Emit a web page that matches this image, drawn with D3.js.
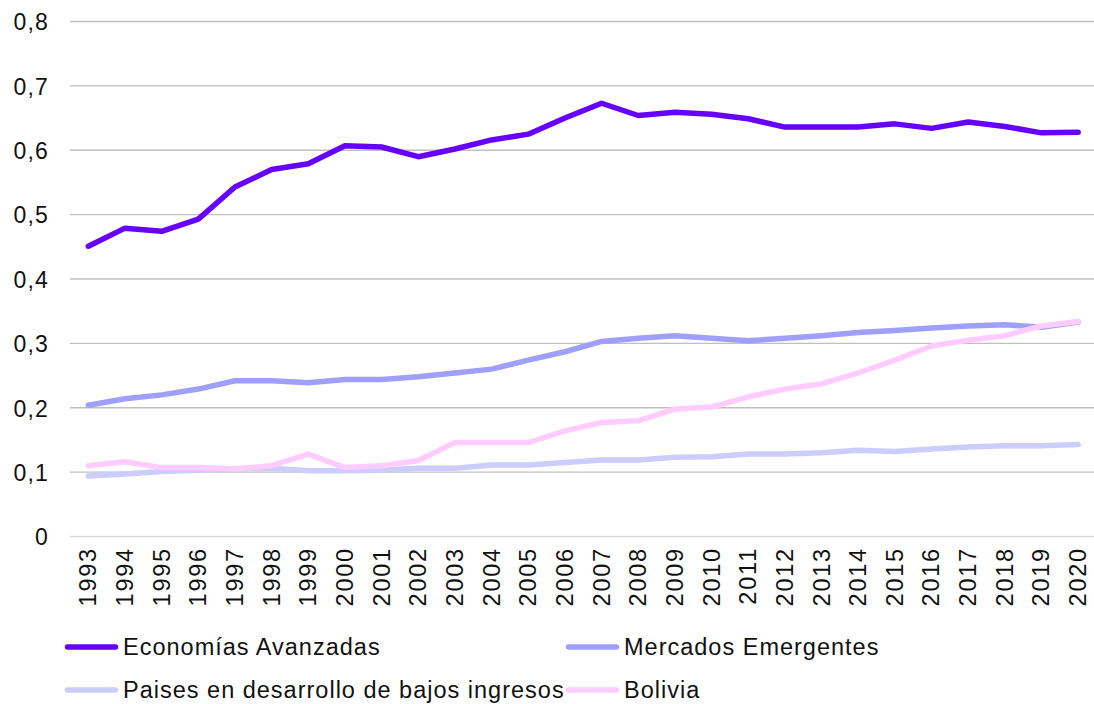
<!DOCTYPE html>
<html>
<head>
<meta charset="utf-8">
<script src="https://cdn.jsdelivr.net/npm/d3@7"></script>
<style>
  html, body { margin: 0; padding: 0; background: #ffffff; }
  svg { display: block; font-family: "Liberation Sans", Arial, sans-serif; }
</style>
</head>
<body>
<svg id="chart" width="1094" height="704"></svg>
<script>
const years = [1993,1994,1995,1996,1997,1998,1999,2000,2001,2002,2003,2004,2005,2006,2007,2008,2009,2010,2011,2012,2013,2014,2015,2016,2017,2018,2019,2020];

const economiasAvanzadas = [0.451,0.479,0.474,0.493,0.543,0.570,0.579,0.607,0.605,0.590,0.602,0.616,0.625,0.650,0.673,0.654,0.659,0.656,0.649,0.636,0.636,0.636,0.641,0.634,0.644,0.637,0.627,0.628];
const mercadosEmergentes = [0.204,0.214,0.220,0.229,0.242,0.242,0.239,0.244,0.244,0.248,0.254,0.260,0.274,0.287,0.303,0.308,0.312,0.308,0.304,0.308,0.312,0.317,0.320,0.324,0.327,0.329,0.325,0.333];
const paisesBajosIngresos = [0.094,0.097,0.101,0.103,0.105,0.106,0.102,0.102,0.103,0.106,0.106,0.111,0.111,0.115,0.119,0.119,0.123,0.124,0.128,0.128,0.130,0.134,0.132,0.136,0.139,0.141,0.141,0.143];
const bolivia = [0.110,0.116,0.107,0.107,0.105,0.110,0.128,0.107,0.110,0.118,0.146,0.146,0.146,0.164,0.177,0.180,0.198,0.201,0.217,0.229,0.237,0.254,0.274,0.296,0.305,0.312,0.327,0.334];

const yTicks = [0,0.1,0.2,0.3,0.4,0.5,0.6,0.7,0.8];

const seriesNames = ["Economías Avanzadas","Mercados Emergentes","Paises en desarrollo de bajos ingresos","Bolivia"];
const seriesColors = ["#6600ff","#9f9fff","#ccccff","#ffccff"];
const seriesValues = [economiasAvanzadas, mercadosEmergentes, paisesBajosIngresos, bolivia];

const svg = d3.select("#chart");
const plotLeft = 70, plotRight = 1096.5, plotTop = 21.5, plotBottom = 536.5;

const x = d3.scalePoint().domain(years).range([plotLeft, plotRight]).padding(0.5);
const y = d3.scaleLinear().domain([0, 0.8]).range([plotBottom, plotTop]);

const fmt = v => v === 0 ? "0" : d3.format(".1f")(v).replace(".", ",");

// gridlines
svg.append("g").selectAll("line").data(yTicks).join("line")
  .attr("x1", plotLeft).attr("x2", plotRight)
  .attr("y1", d => y(d)).attr("y2", d => y(d))
  .attr("stroke", d => d === 0 ? "#d9d9d9" : "#c0c0c0")
  .attr("stroke-width", 1.4);

// y axis labels
const yAxis = d3.axisLeft(y).tickValues(yTicks).tickFormat(fmt).tickSize(0).tickPadding(0);
const gy = svg.append("g").attr("transform", "translate(49,0)").call(yAxis);
gy.select(".domain").remove();
gy.selectAll("text")
  .attr("font-family", "'Liberation Sans', Arial, sans-serif")
  .attr("font-size", 23).attr("fill", "#111")
  .attr("letter-spacing", 1.2).attr("dy", "0.36em");

// x axis labels
const xAxis = d3.axisBottom(x).tickSize(0).tickPadding(0).tickFormat(d => String(d));
const gx = svg.append("g").attr("transform", "translate(0,549)").call(xAxis);
gx.select(".domain").remove();
gx.selectAll("text")
  .attr("font-family", "'Liberation Sans', Arial, sans-serif")
  .attr("font-size", 23.5).attr("fill", "#111")
  .attr("letter-spacing", 1.8)
  .attr("text-anchor", "end")
  .attr("transform", "rotate(-90)")
  .attr("x", 2).attr("y", -1).attr("dy", "0.36em");

// lines
const line = d3.line().x((d, i) => x(years[i])).y(d => y(d));
svg.append("g").selectAll("path").data(seriesValues).join("path")
  .attr("d", d => line(d))
  .attr("fill", "none")
  .attr("stroke", (d, i) => seriesColors[i])
  .attr("stroke-width", 5.5)
  .attr("stroke-linejoin", "round")
  .attr("stroke-linecap", "round");

// legend
const legendPos = [
  {lx: 67.5, ly: 647, tx: 123},
  {lx: 568.5, ly: 647, tx: 624},
  {lx: 67.5, ly: 690, tx: 123},
  {lx: 568.5, ly: 690, tx: 624}
];
const lg = svg.append("g").selectAll("g").data(seriesNames).join("g");
lg.append("line")
  .attr("x1", (d, i) => legendPos[i].lx).attr("x2", (d, i) => legendPos[i].lx + 48)
  .attr("y1", (d, i) => legendPos[i].ly).attr("y2", (d, i) => legendPos[i].ly)
  .attr("stroke", (d, i) => seriesColors[i])
  .attr("stroke-width", 5.5).attr("stroke-linecap", "round");
lg.append("text")
  .attr("x", (d, i) => legendPos[i].tx)
  .attr("y", (d, i) => legendPos[i].ly)
  .attr("dy", "0.36em")
  .attr("font-size", 23.5).attr("letter-spacing", 1)
  .attr("fill", "#111")
  .text(d => d);
</script>
</body>
</html>
